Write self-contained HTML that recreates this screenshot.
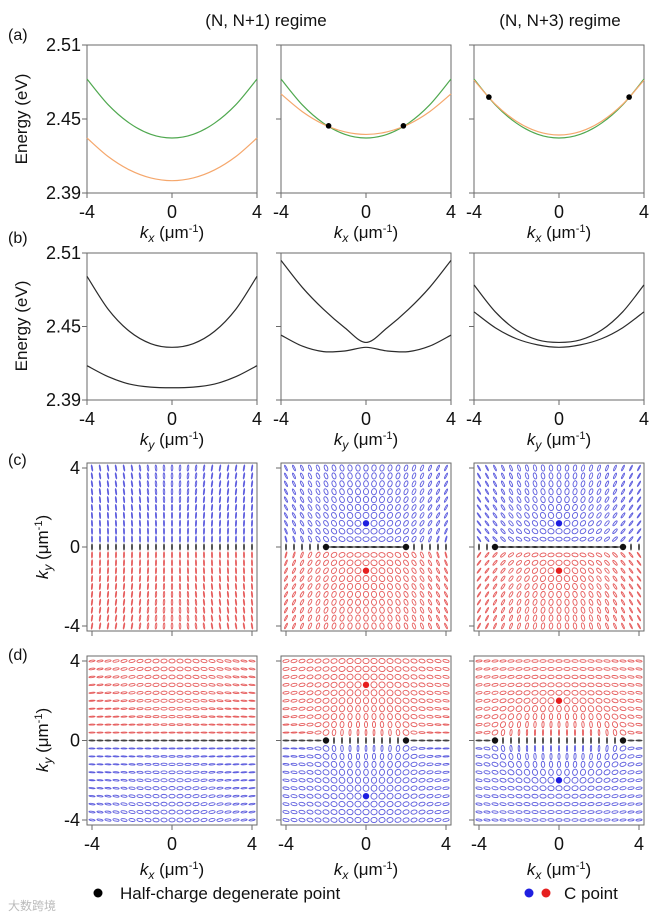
<!DOCTYPE html>
<html><head><meta charset="utf-8">
<style>
html,body{margin:0;padding:0;background:#fff;}
svg{display:block;font-family:"Liberation Sans",Arial,sans-serif;}
</style></head>
<body>
<svg id="fig" width="657" height="918" viewBox="0 0 657 918" xmlns="http://www.w3.org/2000/svg">
<g id="static" fill="#111">
  <text x="266" y="26" font-size="17" text-anchor="middle">(N, N+1) regime</text>
  <text x="560" y="26" font-size="17" text-anchor="middle">(N, N+3) regime</text>
  <text x="8" y="40" font-size="16">(a)</text>
  <text x="8" y="243" font-size="16">(b)</text>
  <text x="8" y="465" font-size="16">(c)</text>
  <text x="8" y="660" font-size="16">(d)</text>
  <text transform="translate(27,119) rotate(-90)" font-size="17" text-anchor="middle">Energy (eV)</text>
  <text transform="translate(27,326) rotate(-90)" font-size="17" text-anchor="middle">Energy (eV)</text>
  <text transform="translate(48,547) rotate(-90)" font-size="17" text-anchor="middle"><tspan font-style="italic">k</tspan><tspan font-size="12" font-style="italic" dy="4">y</tspan><tspan dy="-4"> (μm</tspan><tspan font-size="11" dy="-6">-1</tspan><tspan dy="6">)</tspan></text>
  <text transform="translate(48,740) rotate(-90)" font-size="17" text-anchor="middle"><tspan font-style="italic">k</tspan><tspan font-size="12" font-style="italic" dy="4">y</tspan><tspan dy="-4"> (μm</tspan><tspan font-size="11" dy="-6">-1</tspan><tspan dy="6">)</tspan></text>
  <circle cx="98" cy="893" r="4.5" fill="#000"/>
  <text x="120" y="899" font-size="17">Half-charge degenerate point</text>
  <circle cx="529" cy="893" r="4.5" fill="#1f1fe0"/>
  <circle cx="546" cy="893" r="4.5" fill="#e62020"/>
  <text x="564" y="899" font-size="17">C point</text>
  <text x="8" y="910" font-size="12" fill="#bbb">大数跨境</text>
</g>
<g id="plots"></g>
</svg>
<script>
// ---- band data (energy in eV at k = -4..4 step 1) ----
const kSamples = [-4,-3,-2,-1,0,1,2,3,4];
const a1Green  = [2.4824,2.4615,2.4466,2.4376,2.4346,2.4376,2.4466,2.4615,2.4824];
const a1Orange = [2.4346,2.4195,2.4087,2.4022,2.4000,2.4022,2.4087,2.4195,2.4346];
const a2Green  = [2.4824,2.4615,2.4466,2.4376,2.4346,2.4376,2.4466,2.4615,2.4824];
const a2Orange = [2.4703,2.4560,2.4457,2.4396,2.4375,2.4396,2.4457,2.4560,2.4703];
const a3Green  = [2.4824,2.4615,2.4466,2.4376,2.4346,2.4376,2.4466,2.4615,2.4824];
const a3Orange = [2.4815,2.4620,2.4481,2.4398,2.4370,2.4398,2.4481,2.4620,2.4815];
const b1Upper  = [2.4910,2.4640,2.4460,2.4360,2.4330,2.4360,2.4460,2.4640,2.4910];
const b1Lower  = [2.4180,2.4090,2.4030,2.4005,2.4000,2.4005,2.4030,2.4090,2.4180];
const b2Upper  = [2.5040,2.4820,2.4640,2.4490,2.4370,2.4490,2.4640,2.4820,2.5040];
const b2Lower  = [2.4430,2.4340,2.4295,2.4300,2.4330,2.4300,2.4295,2.4340,2.4430];
const b3Upper  = [2.4840,2.4620,2.4470,2.4390,2.4370,2.4390,2.4470,2.4620,2.4840];
const b3Lower  = [2.4620,2.4490,2.4400,2.4350,2.4330,2.4350,2.4400,2.4490,2.4620];
const a2Crossings = [-1.76, 1.76];
const a3Crossings = [-3.3, 3.3];
const energyTicks = [2.39, 2.45, 2.51];
const kTicks = [-4, 0, 4];
// ---- polarization map parameters ----
const kGrid = [-4,-3.6,-3.2,-2.8,-2.4,-2,-1.6,-1.2,-0.8,-0.4,0,0.4,0.8,1.2,1.6,2,2.4,2.8,3.2,3.6,4];
const cDegenerate = [null, 2.0, 3.2];   // |kx| of half-charge points per column
const cCpoint     = [null, 1.2, 1.2];   // |ky| of C points (row c)
const dDegenerate = [null, 2.0, 3.2];
const dCpoint     = [null, 2.8, 2.0];   // row d

const NS="http://www.w3.org/2000/svg";
const root=document.getElementById('plots');
function mk(tag,attrs,parent){const e=document.createElementNS(NS,tag);for(const k in attrs)e.setAttribute(k,attrs[k]);(parent||root).appendChild(e);return e;}

const cols=[[87,257],[281,451],[474,644]];
const AXC='#6a6a6a';

function lineScales(x0,x1,y0,y1){
  return {sx:k=>x0+(k+4)/8*(x1-x0), sy:e=>y1-(e-2.39)/0.12*(y1-y0)};
}
function curvePath(xs,ys,sx,sy){
  const p=xs.map((k,i)=>[sx(k),sy(ys[i])]);
  let d='M'+p[0][0].toFixed(2)+','+p[0][1].toFixed(2);
  for(let i=0;i<p.length-1;i++){
    const p0=p[Math.max(0,i-1)],p1=p[i],p2=p[i+1],p3=p[Math.min(p.length-1,i+2)];
    const c1=[p1[0]+(p2[0]-p0[0])/6,p1[1]+(p2[1]-p0[1])/6];
    const c2=[p2[0]-(p3[0]-p1[0])/6,p2[1]-(p3[1]-p1[1])/6];
    d+=' C'+c1.map(v=>v.toFixed(2))+' '+c2.map(v=>v.toFixed(2))+' '+p2.map(v=>v.toFixed(2));
  }
  return d;
}
function kLabel(g,cx,y,sub){
  const t=mk('text',{x:cx,y:y,'font-size':17,'text-anchor':'middle',fill:'#111'},g);
  t.innerHTML='<tspan font-style="italic">k</tspan><tspan font-size="12" font-style="italic" dy="4">'+sub+'</tspan><tspan dy="-4"> (μm</tspan><tspan font-size="11" dy="-6">-1</tspan><tspan dy="6">)</tspan>';
  return t;
}
function xTicks(g,sx,yb,labelY){
  kTicks.forEach(k=>{
    mk('line',{x1:sx(k),x2:sx(k),y1:yb,y2:yb+5,stroke:AXC,'stroke-width':1},g);
    if(labelY){const t=mk('text',{x:sx(k),y:labelY,'font-size':18,'text-anchor':'middle',fill:'#111'},g);t.textContent=String(k);}
  });
}

function linePanel(name,ci,y0,y1,series,sub,dots){
  const [x0,x1]=cols[ci];
  const g=mk('g',{});
  
  
  const {sx,sy}=lineScales(x0,x1,y0,y1);
  mk('rect',{x:x0,y:y0,width:x1-x0,height:y1-y0,fill:'none',stroke:AXC,'stroke-width':1},g);
  energyTicks.forEach(e=>{
    mk('line',{x1:x0-5,x2:x0,y1:sy(e),y2:sy(e),stroke:AXC,'stroke-width':1},g);
    if(ci===0){const t=mk('text',{x:x0-6,y:sy(e)+6,'font-size':18,'text-anchor':'end',fill:'#111'},g);t.textContent=e.toFixed(2);}
  });
  xTicks(g,sx,y1,y1+25);
  kLabel(g,(x0+x1)/2,y1+45,sub);
  series.forEach(s=>{
    const p=mk('path',{d:curvePath(kSamples,s.data,sx,sy),fill:'none',stroke:s.color,'stroke-width':1.2},g);
    
    
  });
  if(dots){
    const up=series[0].data;
    dots.forEach(k=>{
      const i=Math.min(7,Math.floor(k+4)),f=(k+4)-i;
      const e=up[i]+(up[i+1]-up[i])*f;
      const c=mk('circle',{cx:sx(k),cy:sy(e),r:2.8,fill:'#000'},g);
      
      
    });
  }
}
const GREEN='#4fa84f',ORANGE='#f5a76c',BLK='#2b2b2b';
linePanel('panel-a1',0,45,193,[{name:'green-band',data:a1Green,color:GREEN},{name:'orange-band',data:a1Orange,color:ORANGE}],'x');
linePanel('panel-a2',1,45,193,[{name:'green-band',data:a2Green,color:GREEN},{name:'orange-band',data:a2Orange,color:ORANGE}],'x',a2Crossings);
linePanel('panel-a3',2,45,193,[{name:'green-band',data:a3Green,color:GREEN},{name:'orange-band',data:a3Orange,color:ORANGE}],'x',a3Crossings);
linePanel('panel-b1',0,253,400,[{name:'upper-band',data:b1Upper,color:BLK},{name:'lower-band',data:b1Lower,color:BLK}],'y');
linePanel('panel-b2',1,253,400,[{name:'upper-band',data:b2Upper,color:BLK},{name:'lower-band',data:b2Lower,color:BLK}],'y');
linePanel('panel-b3',2,253,400,[{name:'upper-band',data:b3Upper,color:BLK},{name:'lower-band',data:b3Lower,color:BLK}],'y');

function mapPanel(name,ci,fy0,fy1,type,kd,kc,withLabels){
  const [fx0,fx1]=cols[ci];
  const ax0=fx0+5,ax1=fx1-5,ay0=fy0+5,ay1=fy1-5;
  const sx=k=>ax0+(k+4)/8*(ax1-ax0), sy=k=>ay1-(k+4)/8*(ay1-ay0);
  const g=mk('g',{});
  
  
  mk('rect',{x:fx0,y:fy0,width:fx1-fx0,height:fy1-fy0,fill:'none',stroke:AXC,'stroke-width':1},g);
  kTicks.forEach(k=>{
    mk('line',{x1:fx0-5,x2:fx0,y1:sy(k),y2:sy(k),stroke:AXC,'stroke-width':1},g);
    if(ci===0){const t=mk('text',{x:fx0-7,y:sy(k)+6,'font-size':18,'text-anchor':'end',fill:'#111'},g);t.textContent=String(k);}
  });
  xTicks(g,sx,fy1,withLabels?fy1+25:null);
  if(withLabels) kLabel(g,(fx0+fx1)/2,fy1+50,'x');
  const kd2 = kd===null?-4:kd*kd;
  const alpha = kc===null?(type==='c'?0.2:0.1):kd2/(kc*kc);
  const beta = type==='c'?(kc===null?0.5:0.5+1.5*alpha):0.4*(1+0.3*alpha);
  const gamma = type==='c'?(kd===null?1:(kd>3?45:30)):(kd===null?3:(kd>3?8:6));
  const A=3.1;
  kGrid.forEach(ky=>{
    kGrid.forEach(kx=>{
      const isDeg = kd!==null && Math.abs(ky)<1e-6 && Math.abs(Math.abs(kx)-kd)<1e-6;
      const isC = kc!==null && Math.abs(kx)<1e-6 && Math.abs(Math.abs(ky)-kc)<1e-6;
      if(isDeg){
        const c=mk('circle',{cx:sx(kx),cy:sy(ky),r:3.2,fill:'#111'},g);
        
        
        return;
      }
      const top = ky>0;
      let col;
      if(Math.abs(ky)<1e-6) col='#111';
      else if(type==='c') col= top?'#3434d6':'#e03434';
      else col= top?'#e03434':'#3434d6';
      if(isC){
        const c=mk('circle',{cx:sx(kx),cy:sy(ky),r:3.2,fill:top===(type==='c')?'#1f1fe0':'#e62020'},g);
        
        
        return;
      }
      let S1,S2,S3;
      if(type==='c'){S1=kd2-kx*kx-alpha*ky*ky;S2=beta*kx*ky;S3=gamma*ky/(kd===null?1:(1+0.12*kx*kx));}
      else{S1=kx*kx-kd2+alpha*ky*ky;S2=-beta*kx*ky;S3=-gamma*ky;}
      const L=Math.hypot(S1,S2);
      const theta=0.5*Math.atan2(S2,S1)*180/Math.PI;
      const chi=0.5*Math.atan2(Math.abs(S3),L);
      const b=Math.max(0.5,A*Math.tan(chi));
      const e=mk('ellipse',{cx:0,cy:0,rx:A,ry:b,fill:'none',stroke:col,'stroke-width':0.9,'stroke-opacity':0.8,
        transform:'translate('+sx(kx).toFixed(2)+','+sy(ky).toFixed(2)+') rotate('+(-theta).toFixed(2)+')'},g);
      
      
    });
  });
  if(kd!==null && type==='c'){
    mk('line',{x1:sx(-kd),x2:sx(kd),y1:sy(0),y2:sy(0),stroke:'#111','stroke-width':1},g);
  }
}
mapPanel('panel-c1',0,463,631,'c',null,null,false);
mapPanel('panel-c2',1,463,631,'c',cDegenerate[1],cCpoint[1],false);
mapPanel('panel-c3',2,463,631,'c',cDegenerate[2],cCpoint[2],false);
mapPanel('panel-d1',0,656,825,'d',null,null,true);
mapPanel('panel-d2',1,656,825,'d',dDegenerate[1],dCpoint[1],true);
mapPanel('panel-d3',2,656,825,'d',dDegenerate[2],dCpoint[2],true);
</script>
</body></html>
